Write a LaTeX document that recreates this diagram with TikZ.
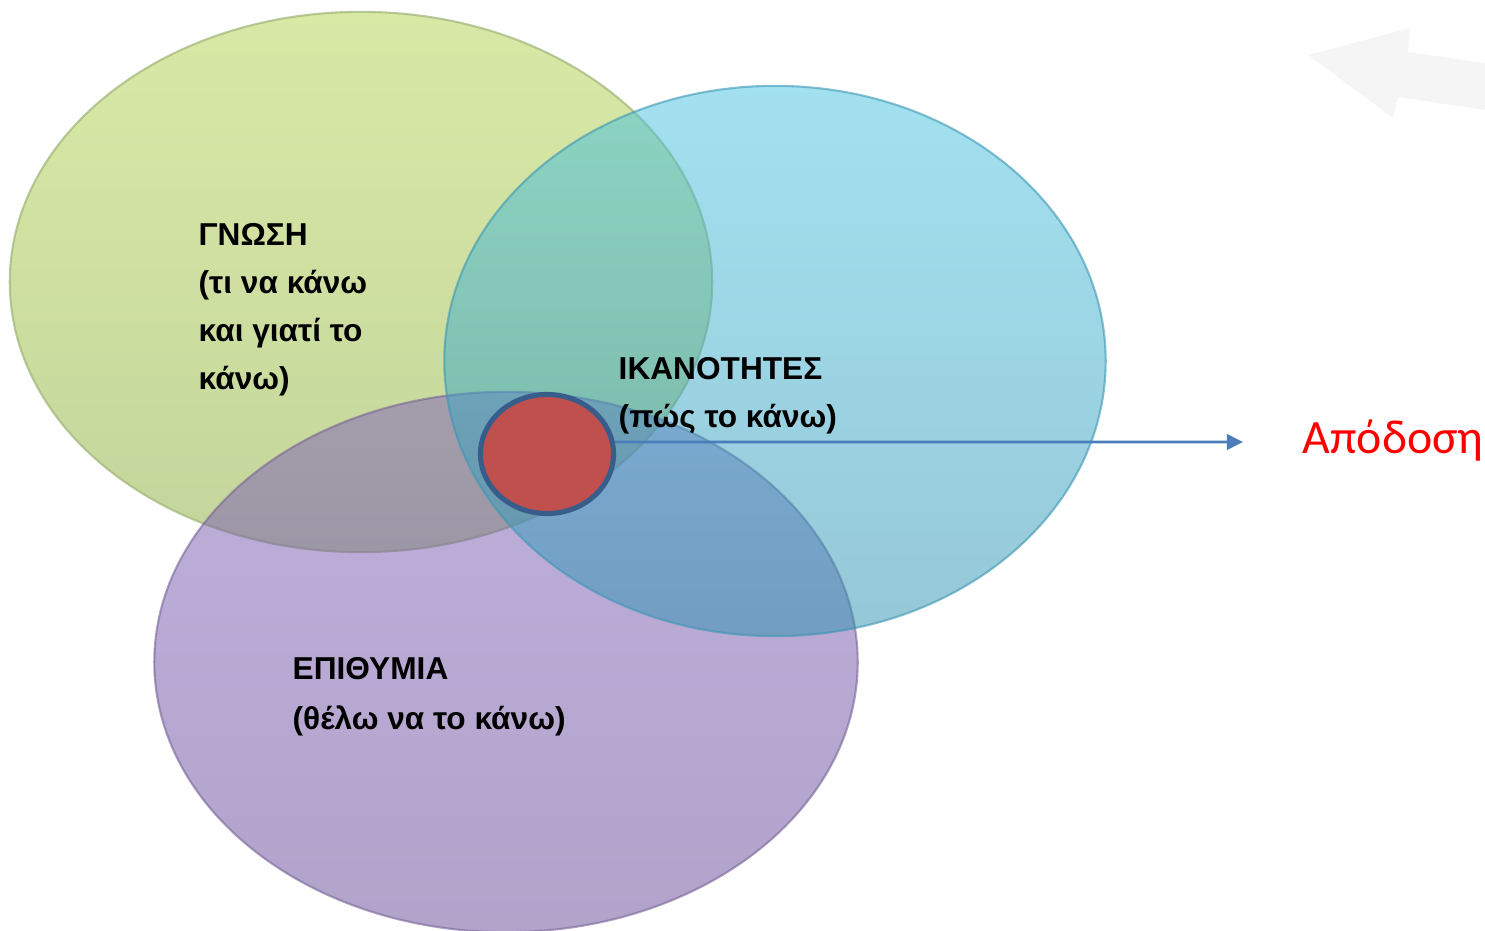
\documentclass[tikz,border=0pt]{standalone}
\usepackage{fontspec}
\setmainfont{Liberation Sans}
\newfontfamily\calibrifont{Carlito}
\usetikzlibrary{shapes.geometric,arrows.meta}

% palette
\definecolor{gnTop}{RGB}{216,233,166}
\definecolor{gnBot}{RGB}{196,213,156}
\definecolor{gnEdge}{RGB}{160,180,120}
\definecolor{puTop}{RGB}{125,97,185}
\definecolor{puBot}{RGB}{101,71,151}
\definecolor{puEdge}{RGB}{120,100,150}
\definecolor{blTop}{RGB}{70,195,226}
\definecolor{blBot}{RGB}{45,145,175}
\definecolor{blEdge}{RGB}{60,150,180}
\definecolor{coreRed}{RGB}{192,80,77}
\definecolor{coreEdge}{RGB}{56,93,138}
\definecolor{arrowBlue}{RGB}{74,126,187}
\definecolor{ghostGray}{RGB}{245,245,245}

\begin{document}
\begin{tikzpicture}[x=0.01cm, y=-0.01cm,
  venn/.style={shape=ellipse, inner sep=0pt, outer sep=0pt, line width=0.6pt},
  lbl/.style={font=\bfseries\fontsize{9}{13.66}\selectfont, align=left,
              inner sep=0pt, anchor=north west, text=black},
  result/.style={font=\calibrifont\fontsize{13.6}{16}\selectfont, text=red,
                 inner sep=0pt, anchor=base west},
  link/.style={draw=arrowBlue, line width=0.75pt,
               -{Triangle[length=4.6pt,width=4.4pt]}}]

\useasboundingbox (0,0) rectangle (1485,931);

% faint arrow in the upper right corner
\fill[ghostGray] (1308,55) -- (1410,28) -- (1408,52) -- (1485,63)
  -- (1485,110) -- (1398,97) -- (1393,118) -- cycle;

% the three circles of the diagram
\node[venn, top color=gnTop, bottom color=gnBot, draw=gnEdge, draw opacity=0.7,
      minimum width=7.02cm, minimum height=5.40cm] (knowledge) at (361,282) {};
\node[venn, top color=puTop, bottom color=puBot, fill opacity=0.5,
      draw=puEdge, draw opacity=0.6,
      minimum width=7.03cm, minimum height=5.40cm] (desire) at (506,662) {};
\node[venn, top color=blTop, bottom color=blBot, fill opacity=0.5,
      draw=blEdge, draw opacity=0.6,
      minimum width=6.61cm, minimum height=5.50cm] (skills) at (775,361) {};

% common core
\node[shape=ellipse, fill=coreRed, draw=coreEdge, line width=1.45pt,
      inner sep=0pt, minimum width=1.33cm, minimum height=1.19cm] (core) at (547,454) {};

% labels
\node[lbl] (knowledgeText) at (198,223) {ΓΝΩΣΗ\\(τι να κάνω\\και γιατί το\\κάνω)};
\node[lbl] (skillsText) at (618,357) {ΙΚΑΝΟΤΗΤΕΣ\\(πώς το κάνω)};
\node[lbl, font=\bfseries\fontsize{9}{14.2}\selectfont] (desireText) at (292,657) {ΕΠΙΘΥΜΙΑ\\(θέλω να το κάνω)};

% outcome
\node[result] (performance) at (1302,454) {Απόδοση};
\coordinate (tip) at (1243,442);
\draw[link] (core.10) -- (tip);

\end{tikzpicture}
\end{document}
